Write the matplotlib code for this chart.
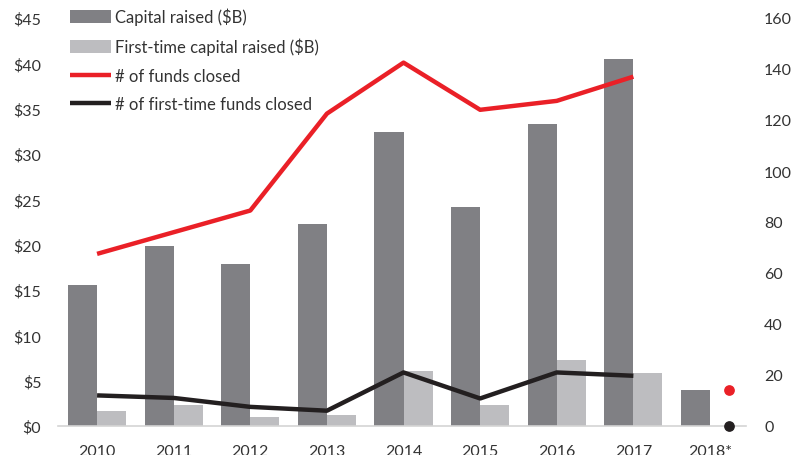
import numpy as np
import matplotlib
matplotlib.use("Agg")
from matplotlib import pyplot as plt

plt.rcParams['font.family'] = ['Lato', 'DejaVu Sans']

years = ['2010', '2011', '2012', '2013', '2014', '2015', '2016', '2017', '2018*']
capital = [15.5, 19.8, 17.9, 22.3, 32.4, 24.1, 33.3, 40.5, 4.0]
first_capital = [1.6, 2.3, 1.0, 1.2, 6.1, 2.3, 7.3, 5.9]
funds = [67.5, 76, 84.5, 122.5, 142.5, 124, 127.5, 137]
first_funds = [12, 11, 7.5, 6, 21, 10.8, 21, 19.7]
funds_2018 = 14
first_funds_2018 = 0

dark = '#808084'
light = '#bdbdc0'
red = '#ea2027'
black = '#231f20'
txt = '#333333'

fig = plt.figure(figsize=(8.05, 4.56), dpi=100)
ax = fig.add_axes([58 / 805, 29 / 456, 688 / 805, 408 / 456])
ax2 = ax.twinx()

x = np.arange(len(years))
w = 0.38
ax.bar(x - w / 2, capital, w, color=dark, label='Capital raised ($B)')
ax.bar(x[:len(first_capital)] + w / 2, first_capital, w, color=light,
       label='First-time capital raised ($B)')

xl = x[:len(funds)]
ax2.plot(xl, funds, color=red, lw=3.2, solid_capstyle='butt', label='# of funds closed')
ax2.plot(xl, first_funds, color=black, lw=3.2, solid_capstyle='butt',
         label='# of first-time funds closed')
ax2.scatter([x[-1] + 0.25], [funds_2018], s=45, color=red, zorder=5, clip_on=False)
ax2.scatter([x[-1] + 0.25], [first_funds_2018], s=45, color=black, zorder=5, clip_on=False)

ax.set_xlim(-0.51, 8.47)
ax.set_ylim(0, 45)
ax2.set_ylim(0, 160)
ax.set_yticks(np.arange(0, 46, 5))
ax.set_yticklabels(['$%d' % v for v in range(0, 46, 5)])
ax2.set_yticks(np.arange(0, 161, 20))
ax.set_xticks(x)
ax.set_xticklabels(years)

for a in (ax, ax2):
    for s in a.spines.values():
        s.set_visible(False)
    a.tick_params(length=0, labelsize=11.5, colors=txt)
ax.spines['bottom'].set_visible(True)
ax.spines['bottom'].set_color('#d4d4d4')
ax.spines['bottom'].set_linewidth(1.2)
ax.tick_params(axis='y', pad=12)
ax.tick_params(axis='x', pad=13)
ax2.tick_params(axis='y', pad=13)

h1, l1 = ax.get_legend_handles_labels()
h2, l2 = ax2.get_legend_handles_labels()
fig.legend(h1 + h2, l1 + l2, loc='upper left', bbox_to_anchor=(70 / 805, 1 - 9 / 456),
           frameon=False, fontsize=12, handlelength=2.45, handleheight=0.8,
           handletextpad=0.25, labelspacing=0.75, borderpad=0, borderaxespad=0,
           labelcolor=txt)

fig.savefig('out.png', dpi=100)
